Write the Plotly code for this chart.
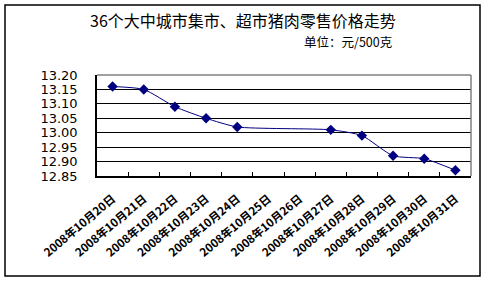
import plotly.graph_objects as go

dates = ["2008年10月20日", "2008年10月21日", "2008年10月22日", "2008年10月23日",
         "2008年10月24日", "2008年10月25日", "2008年10月26日", "2008年10月27日",
         "2008年10月28日", "2008年10月29日", "2008年10月30日", "2008年10月31日"]
prices = [13.16, 13.15, 13.09, 13.05, 13.02, None, None, 13.01, 12.99, 12.92, 12.91, 12.87]

title_text = "36个大中城市集市、超市猪肉零售价格走势"
unit_text = "单位：元/500克"

W, H = 488, 283
L, R, T, B = 97, 17, 75, 107
pw, ph = W - L - R, H - T - B

def px(x):
    return (x - L) / pw

def py(y):
    return (H - B - y) / ph

fig = go.Figure()
fig.add_trace(go.Scatter(
    x=dates, y=prices, mode="lines+markers",
    connectgaps=True,
    line=dict(color="#000080", width=1, shape="spline", smoothing=0.6),
    marker=dict(symbol="diamond", size=8, color="#000080"),
    showlegend=False,
))

fig.update_layout(
    width=W, height=H,
    margin=dict(l=L, r=R, t=T, b=B),
    paper_bgcolor="white", plot_bgcolor="white",
    font=dict(family="Noto Sans CJK SC, DejaVu Sans", color="black"),
    xaxis=dict(
        type="category", categoryorder="array", categoryarray=dates,
        range=[-0.5, len(dates) - 0.5],
        showgrid=False, zeroline=False,
        showline=True, linecolor="black", linewidth=1.5,
        ticks="inside", ticklen=4, tickcolor="black", tickson="boundaries",
        tickangle=-40, ticklabelstandoff=10,
        tickfont=dict(family="Noto Sans CJK SC", size=11.5, color="black", weight="bold"),
    ),
    yaxis=dict(
        range=[12.85, 13.20], dtick=0.05, tick0=12.85, tickformat=".2f",
        showgrid=True, gridcolor="black", gridwidth=1,
        zeroline=False,
        showline=True, linecolor="black", linewidth=1.5,
        ticks="", ticklen=0, ticklabelstandoff=15,
        tickfont=dict(family="DejaVu Sans", size=13, color="black"),
    ),
    shapes=[
        dict(type="line", xref="paper", yref="paper", x0=0, x1=1, y0=1, y1=1,
             line=dict(color="#808080", width=1.5)),
        dict(type="line", xref="paper", yref="paper", x0=1, x1=1, y0=0, y1=1,
             line=dict(color="#808080", width=1.5)),
        dict(type="rect", xref="paper", yref="paper",
             x0=px(5), x1=px(480), y0=py(276), y1=py(5),
             line=dict(color="black", width=1.5), fillcolor="rgba(0,0,0,0)", layer="below"),
    ],
    annotations=[
        dict(text=title_text, xref="paper", yref="paper", x=px(242.5), y=py(20),
             xanchor="center", yanchor="middle", showarrow=False,
             font=dict(family="Noto Sans CJK SC", size=16, color="black")),
        dict(text=unit_text, xref="paper", yref="paper", x=px(394), y=py(41.5),
             xanchor="right", yanchor="middle", showarrow=False,
             font=dict(family="Noto Sans CJK SC", size=12.5, color="black")),
    ],
)

fig.write_html("out.html")
